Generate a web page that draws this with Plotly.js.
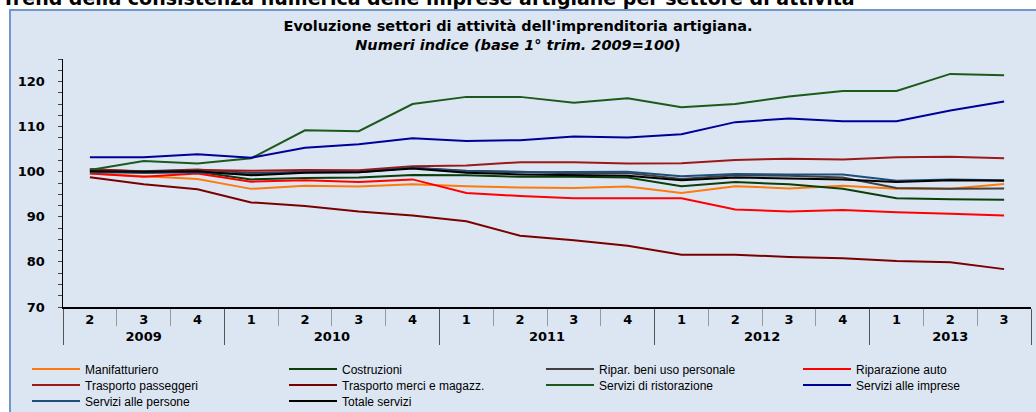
<!DOCTYPE html>
<html>
<head>
<meta charset="utf-8">
<script src="https://cdn.plot.ly/plotly-3.0.1.min.js"></script>
<style>html,body{margin:0;padding:0;background:#fff;}#chart{width:1036px;height:412px;}</style>
</head>
<body>
<div id="chart"></div>
<script>
// 2009 quarter labels carry a zero-width space so that Plotly's multicategory
// ordering keeps quarter 1 before 2,3,4 in the following years.
const years = ['2009','2009','2009','2010','2010','2010','2010','2011','2011','2011','2011','2012','2012','2012','2012','2013','2013','2013'];
const quarters = ['2\u200b','3\u200b','4\u200b','1','2','3','4','1','2','3','4','1','2','3','4','1','2','3'];

const manifatturiero = [99.6, 99.0, 98.4, 96.2, 96.9, 96.7, 97.2, 96.8, 96.5, 96.4, 96.7, 95.3, 96.8, 96.3, 96.9, 96.2, 96.2, 97.3];
const costruzioni = [100.2, 99.8, 100.0, 98.3, 98.6, 98.7, 99.3, 99.2, 98.9, 98.9, 98.7, 96.8, 97.7, 97.2, 96.2, 94.1, 93.9, 93.8];
const riparBeni = [100.5, 100.1, 100.5, 99.7, 100.0, 100.0, 100.9, 100.2, 100.0, 99.6, 99.7, 98.4, 99.2, 99.1, 98.7, 96.4, 96.2, 96.3];
const riparAuto = [99.6, 98.9, 99.6, 97.8, 98.1, 97.7, 98.3, 95.3, 94.6, 94.1, 94.1, 94.1, 91.6, 91.2, 91.5, 91.0, 90.7, 90.3];
const traspPasseggeri = [100.6, 100.0, 100.4, 100.2, 100.4, 100.3, 101.2, 101.4, 102.1, 102.1, 101.8, 101.9, 102.6, 102.9, 102.7, 103.2, 103.3, 103.0];
const traspMerci = [98.8, 97.2, 96.1, 93.2, 92.4, 91.2, 90.3, 89.0, 85.8, 84.8, 83.6, 81.6, 81.6, 81.1, 80.8, 80.2, 79.9, 78.4];
const ristorazione = [100.4, 102.4, 101.8, 103.0, 109.2, 109.0, 115.0, 116.6, 116.6, 115.3, 116.3, 114.3, 115.0, 116.7, 117.9, 117.9, 121.7, 121.4];
const serviziImprese = [103.2, 103.2, 103.9, 103.1, 105.3, 106.1, 107.4, 106.8, 107.0, 107.8, 107.6, 108.3, 111.0, 111.8, 111.2, 111.2, 113.6, 115.6];
const serviziPersone = [99.9, 99.8, 99.9, 99.4, 99.9, 99.9, 100.9, 100.1, 99.9, 100.0, 100.0, 99.0, 99.5, 99.4, 99.4, 98.0, 98.3, 98.1];
const totaleServizi = [100.1, 100.0, 100.1, 99.2, 99.8, 99.9, 100.7, 99.8, 99.4, 99.2, 99.1, 98.1, 98.7, 98.5, 98.3, 97.7, 98.1, 98.0];

const seriesNames = ['Manifatturiero','Costruzioni','Ripar. beni uso personale','Riparazione auto',
  'Trasporto passeggeri','Trasporto merci e magazz.','Servizi di ristorazione','Servizi alle imprese',
  'Servizi alle persone','Totale servizi'];
const seriesValues = [manifatturiero, costruzioni, riparBeni, riparAuto, traspPasseggeri, traspMerci,
  ristorazione, serviziImprese, serviziPersone, totaleServizi];
const seriesColors = ['#FF7A0A','#0A3F0A','#404040','#FF0000','#9A1A1A','#7A0000','#1C5A1C','#000099','#1F4E79','#000000'];
const legendRow = ['legend','legend','legend','legend','legend2','legend2','legend2','legend2','legend3','legend3'];

const FONT = 'Arial, "Liberation Sans", sans-serif';
const BFONT = '"DejaVu Sans", sans-serif';

const traces = seriesNames.map((n, i) => ({
  type: 'scatter', mode: 'lines', name: n,
  x: [years, quarters], y: seriesValues[i],
  line: {color: seriesColors[i], width: 2},
  legend: legendRow[i]
}));

const W = 968, H = 248, L = 63, T = 59;
const px = v => (v - L) / W;
const py = v => (T + H - v) / H;

const legendBase = {
  orientation: 'h', xanchor: 'left', yanchor: 'middle', x: px(27),
  entrywidth: 194, entrywidthmode: 'pixels', itemwidth: 48,
  bgcolor: 'rgba(0,0,0,0)', font: {family: FONT, size: 12, color: '#000'},
  traceorder: 'normal'
};

const layout = {
  width: 1036, height: 412,
  margin: {l: L, r: 5, t: T, b: 105, autoexpand: false},
  paper_bgcolor: '#ffffff',
  plot_bgcolor: 'rgba(0,0,0,0)',
  showlegend: true,
  title: {
    text: '<b>Evoluzione settori di attività dell\'imprenditoria artigiana.</b><br><b><i>Numeri indice (base 1° trim. 2009=100</i>)</b>',
    font: {family: BFONT, size: 14.5, color: '#000'},
    x: 0.5, xref: 'container', xanchor: 'center',
    y: 1 - 31 / 412, yref: 'container', yanchor: 'top'
  },
  xaxis: {
    type: 'multicategory', range: [-0.5, years.length - 0.5], autorange: false,
    showline: true, linecolor: '#000', linewidth: 1.5,
    ticks: 'outside', tickson: 'boundaries', ticklen: 17, tickcolor: '#999', tickwidth: 1,
    showdividers: true, dividercolor: '#555', dividerwidth: 1,
    tickfont: {family: BFONT, size: 13, color: '#000', weight: 'bold'},
    showgrid: false, zeroline: false
  },
  yaxis: {
    range: [70, 125], tick0: 70, dtick: 10,
    showline: true, linecolor: '#000', linewidth: 1.5,
    ticks: 'outside', ticklen: 4, tickcolor: '#444', tickwidth: 1,
    minor: {dtick: 2.5, tick0: 70, ticks: 'outside', ticklen: 4, tickcolor: '#444', showgrid: false},
    ticklabelstandoff: 10,
    tickfont: {family: BFONT, size: 13, color: '#000', weight: 'bold'},
    showgrid: false, zeroline: false
  },
  legend: Object.assign({}, legendBase, {y: py(369)}),
  legend2: Object.assign({}, legendBase, {y: py(385)}),
  legend3: Object.assign({}, legendBase, {y: py(401)}),
  shapes: [{
    type: 'rect', xref: 'paper', yref: 'paper', layer: 'below',
    x0: px(10), x1: px(1050), y0: py(430), y1: py(10),
    fillcolor: '#DCE6F2', line: {color: '#7097CC', width: 2}
  }],
  annotations: [{
    text: '<b>Trend della consistenza numerica delle imprese artigiane per settore di attività</b>',
    xref: 'paper', yref: 'paper', x: px(0), y: py(11), xanchor: 'left', yanchor: 'bottom',
    showarrow: false, font: {family: BFONT, size: 19, color: '#000'}
  }]
};

Plotly.newPlot('chart', traces, layout, {displayModeBar: false, staticPlot: true});
</script>
</body>
</html>
